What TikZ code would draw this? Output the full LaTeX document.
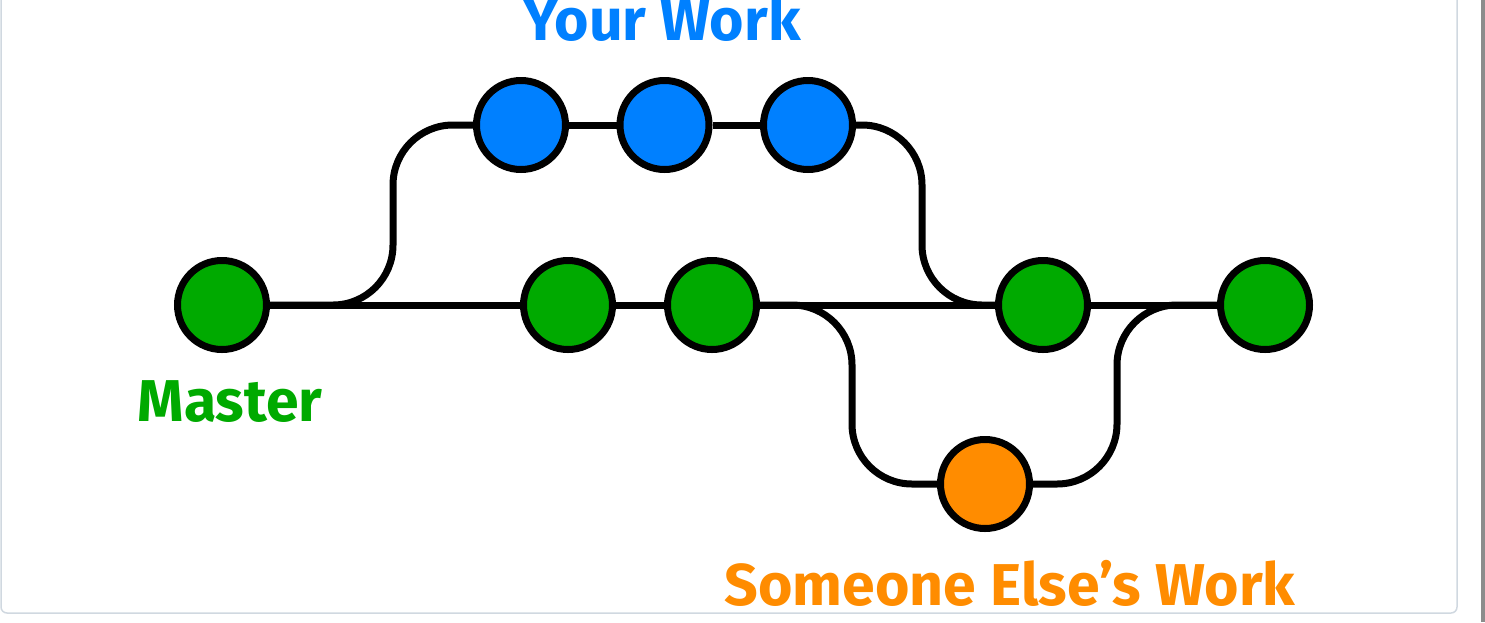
\documentclass[tikz,border=0pt]{standalone}
\usepackage{fontspec}
\setmainfont{Fira Sans}
\usetikzlibrary{positioning, backgrounds}
\definecolor{workblue}{RGB}{0,128,255}
\definecolor{mastergreen}{RGB}{0,170,0}
\definecolor{otherorange}{RGB}{255,140,0}
\definecolor{framegray}{RGB}{208,216,224}

\begin{document}
\begin{tikzpicture}[
    x=1pt, y=-1pt,
    commit/.style={circle, draw, line width=7pt, minimum size=89pt, inner sep=0pt},
    link/.style={line width=7pt, rounded corners=60pt},
    tag/.style={font=\fontsize{59}{61}\selectfont\bfseries, anchor=base},
]
\useasboundingbox (0,0) rectangle (1485,622);
\fill[gray!90] (1481,0) rectangle (1485,622);
\draw[framegray, line width=1.5pt, rounded corners=6pt] (1,-20) rectangle (1457,613);

% master line
\node[commit, fill=mastergreen] (m1) at (222,305) {};
\node[commit, fill=mastergreen] (m2) at (568,305) {};
\node[commit, fill=mastergreen] (m3) at (712,305) {};
\node[commit, fill=mastergreen] (m4) at (1043,305) {};
\node[commit, fill=mastergreen] (m5) at (1265,305) {};

% your branch
\node[commit, fill=workblue] (b1) at (521,125) {};
\node[commit, fill=workblue, right=47.5pt of b1] (b2) {};
\node[commit, fill=workblue, right=47.5pt of b2] (b3) {};

% someone else's branch
\node[commit, fill=otherorange] (o1) at (985,484) {};

\begin{pgfonlayer}{background}
\draw[link] (m1) -- (m2) -- (m3) -- (m4) -- (m5);
\draw[link] (m1.east) -- (393,305) |- (b1.west);
\draw[link] (b1) -- (b2) -- (b3);
\draw[link] (b3.east) -| (922,305) -- (m4.west);
\draw[link] (m3.east) -| (852,484) -- (o1.west);
\draw[link] (o1.east) -| (1117,305) -- (m5.west);
\end{pgfonlayer}

\node[tag, text=workblue] (yourwork) at (662,40) {Your Work};
\node[tag, text=mastergreen] (master) at (230,421) {Master};
\node[tag, text=otherorange] (elsework) at (1010,605) {Someone Else’s Work};

\end{tikzpicture}
\end{document}
